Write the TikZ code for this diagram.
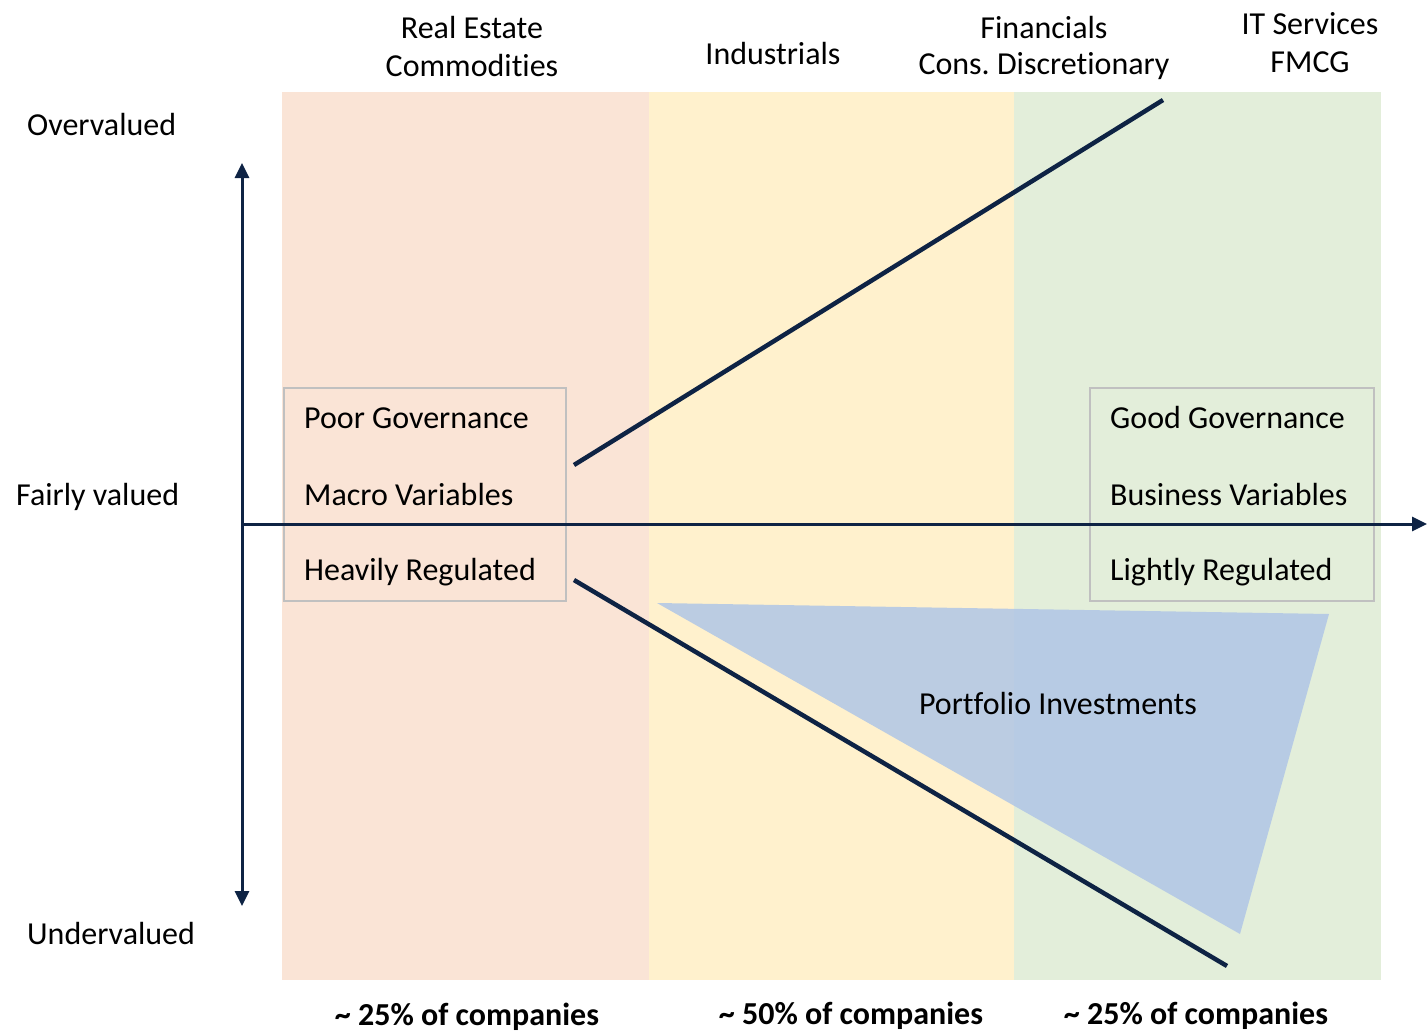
\documentclass[tikz,border=0pt]{standalone}
\usepackage{fontspec}
\setmainfont{Carlito}[Ligatures={NoCommon}]
\usetikzlibrary{arrows.meta}
\definecolor{bandR}{HTML}{FAE4D6}
\definecolor{bandY}{HTML}{FFF1CD}
\definecolor{bandG}{HTML}{E3EEDA}
\definecolor{navy}{HTML}{0E2344}
\definecolor{tri}{HTML}{B0C6E6}
\definecolor{boxline}{HTML}{C0C0C0}
\tikzset{
  lbl/.style={font=\fontsize{32}{36}\selectfont, inner sep=0pt, text=black},
  btm/.style={font=\fontsize{32}{36}\selectfont\bfseries, inner sep=0pt},
  trend/.style={draw=navy, line width=4.5pt},
  axis/.style={draw=navy, line width=3pt, -{Triangle[length=15pt,width=14pt]}},
  gbox/.style={draw=boxline, line width=1.5pt}
}
\begin{document}
\frenchspacing
\begin{tikzpicture}[x=1pt,y=-1pt]
\useasboundingbox (0,0) rectangle (1427,1033);
% bands
\fill[bandR] (282,92) rectangle (649,980);
\fill[bandY] (649,92) rectangle (1014,980);
\fill[bandG] (1014,92) rectangle (1381,980);
% triangle
\fill[tri, fill opacity=0.85] (657,603) -- (1329,614) -- (1240,934) -- cycle;
% boxes
\draw[gbox] (284,388) rectangle (566,601);
\draw[gbox] (1090,388) rectangle (1374,601);
% axes
\coordinate (o) at (242,524);
\coordinate (xe) at (1427,524);
\coordinate (yt) at (242,163);
\coordinate (yb) at (242,906);
\draw[axis] (o) -- (xe);
\draw[draw=navy, line width=3pt, {Triangle[length=15pt,width=14pt]}-{Triangle[length=15pt,width=14pt]}] (yt) -- (yb);
% trend lines
\coordinate (u1) at (574,465);
\coordinate (u2) at (1163,100);
\coordinate (d1) at (574,580);
\coordinate (d2) at (1227,966);
\draw[trend] (u1) -- (u2);
\draw[trend] (d1) -- (d2);
% top labels
\node[lbl] (re) at (472,28) {Real Estate};
\node[lbl] (co) at (472,66) {Commodities};
\node[lbl] (in) at (773,54) {Industrials};
\node[lbl] (fi) at (1044,28) {Financials};
\node[lbl] (cd) at (1044,66) {Cons. Discretionary};
\node[lbl] (it) at (1310,24) {IT Services};
\node[lbl] (fm) at (1310,62) {FMCG};
% left labels
\node[lbl, anchor=west] (ov) at (27,125) {Overvalued};
\node[lbl, anchor=west] (fv) at (16,497) {Fairly valued};
\node[lbl, anchor=west] (uv) at (27,933) {Undervalued};
% box texts
\node[lbl, anchor=west] (pg) at (304,418) {Poor Governance};
\node[lbl, anchor=west] (mv) at (304,495) {Macro Variables};
\node[lbl, anchor=west] (hr) at (304,572) {Heavily Regulated};
\node[lbl, anchor=west] (gg) at (1110,418) {Good Governance};
\node[lbl, anchor=west] (bv) at (1110,495) {Business Variables};
\node[lbl, anchor=west] (lr) at (1110,572) {Lightly Regulated};
\node[lbl] (pi) at (1058,704) {Portfolio Investments};
% bottom
\node[btm] (b1) at (467,1017) {\textasciitilde{} 25\% of companies};
\node[btm] (b2) at (851,1016) {\textasciitilde{} 50\% of companies};
\node[btm] (b3) at (1196,1016) {\textasciitilde{} 25\% of companies};
\end{tikzpicture}
\end{document}
